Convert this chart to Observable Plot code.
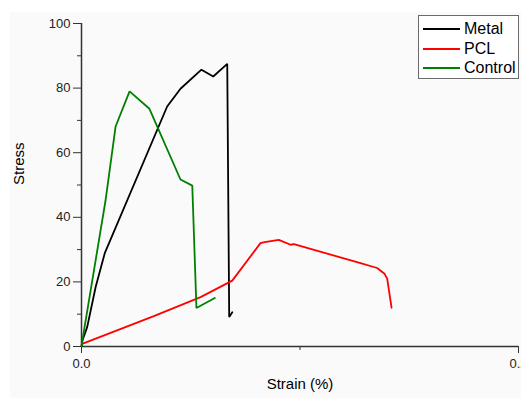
<!DOCTYPE html>
<html>
<head>
<meta charset="utf-8">
<script src="https://cdn.jsdelivr.net/npm/d3@7"></script>
<script src="https://cdn.jsdelivr.net/npm/@observablehq/plot@0.6"></script>
<style>
  html, body { margin: 0; padding: 0; background: #ffffff; }
  #wrap { position: relative; width: 521px; height: 398px; overflow: hidden; }
  #bg { position: absolute; left: 10px; top: 12px; right: 0; bottom: 0; background: #fafafa; }
  #chart { position: absolute; left: 0; top: 0; }
  #legend { position: absolute; left: 418px; top: 15px; width: 99px; height: 62px;
            border: 1px solid #6a6a6a; background: #ffffff; font-family: "Liberation Sans", Arial, sans-serif; font-size: 16px; }
  .item { position: absolute; left: 4px; height: 20px; display: flex; align-items: center; }
  .swatch { width: 37px; height: 0; border-top: 2px solid; margin-right: 4px; }
</style>
</head>
<body>
<div id="wrap"><div id="bg"></div><div id="chart"></div><div id="legend"></div></div>
<script>
const seriesNames = ["Metal", "PCL", "Control"];
const seriesColors = ["#000000", "#ff0000", "#008000"];

const metalStrain = [0, 0.0005, 0.0026, 0.0065, 0.0107, 0.0392, 0.0453, 0.0549, 0.0603, 0.0667, 0.0676, 0.0690];
const metalStress = [0, 2, 6, 18.5, 29.0, 74.3, 79.8, 85.7, 83.6, 87.5, 9.1, 10.6];

const pclStrain = [0.0003, 0.0331, 0.0545, 0.0690, 0.0819, 0.0838, 0.0903, 0.0957, 0.0972, 0.1277, 0.1353, 0.1387, 0.1399, 0.1419];
const pclStress = [0.8, 9.4, 15.3, 20.4, 32.0, 32.3, 33.0, 31.5, 31.7, 25.8, 24.3, 22.5, 21.0, 12.0];

const controlStrain = [0, 0.0003, 0.0110, 0.0156, 0.0220, 0.0311, 0.0453, 0.0507, 0.0526, 0.0610];
const controlStress = [0, 1.5, 45.2, 68.1, 79.0, 73.6, 51.7, 49.8, 11.9, 15.0];

const yTicks = [0, 20, 40, 60, 80, 100];
const yMinor = [10, 30, 50, 70, 90];
const xTicks = [0, 0.2];
const xMinor = [0.1];

const table = [];
[[metalStrain, metalStress], [pclStrain, pclStress], [controlStrain, controlStress]].forEach(([xs, ys], i) => {
  xs.forEach((x, j) => table.push({series: seriesNames[i], strain: x, stress: ys[j]}));
});

const font = '"Liberation Sans", Arial, sans-serif';
const chart = Plot.plot({
  width: 521,
  height: 398,
  marginLeft: 81,
  marginRight: 3,
  marginTop: 23,
  marginBottom: 52,
  style: {fontFamily: font, fontSize: "13px", color: "#222", background: "transparent", overflow: "visible"},
  x: {domain: [0, 0.2]},
  y: {domain: [0, 100]},
  color: {domain: seriesNames, range: seriesColors},
  marks: [
    Plot.axisY({ticks: yTicks, tickSize: 8, tickPadding: 3, tickFormat: d => String(d), label: null, stroke: "#333", fontSize: 13}),
    Plot.axisY({ticks: yMinor, tickSize: 4, tickFormat: null, text: null, label: null, stroke: "#333"}),
    Plot.axisX({ticks: xTicks, tickSize: 7, tickPadding: 5, tickFormat: d3.format(".1f"), label: null, stroke: "#333", fontSize: 13}),
    Plot.axisX({ticks: xMinor, tickSize: 4, text: null, label: null, stroke: "#333"}),
    Plot.ruleX([0], {stroke: "#333", strokeWidth: 1.5}),
    Plot.ruleY([0], {stroke: "#333", strokeWidth: 1.5}),
    Plot.line(table, {x: "strain", y: "stress", z: "series", stroke: "series", strokeWidth: 1.8, strokeLinejoin: "miter"}),
    Plot.text(["Strain (%)"], {frameAnchor: "bottom", dy: 42, fontSize: 15, fill: "#000", text: d => d}),
    Plot.text(["Stress"], {frameAnchor: "left", dx: -62, rotate: -90, fontSize: 15, fill: "#000", text: d => d})
  ]
});
document.getElementById("chart").appendChild(chart);

const legend = document.getElementById("legend");
seriesNames.forEach((name, i) => {
  const item = document.createElement("div");
  item.className = "item";
  item.style.top = (3 + i * 19.7) + "px";
  const sw = document.createElement("span");
  sw.className = "swatch";
  sw.style.borderTopColor = seriesColors[i];
  const label = document.createElement("span");
  label.textContent = name;
  item.appendChild(sw);
  item.appendChild(label);
  legend.appendChild(item);
});
</script>
</body>
</html>
